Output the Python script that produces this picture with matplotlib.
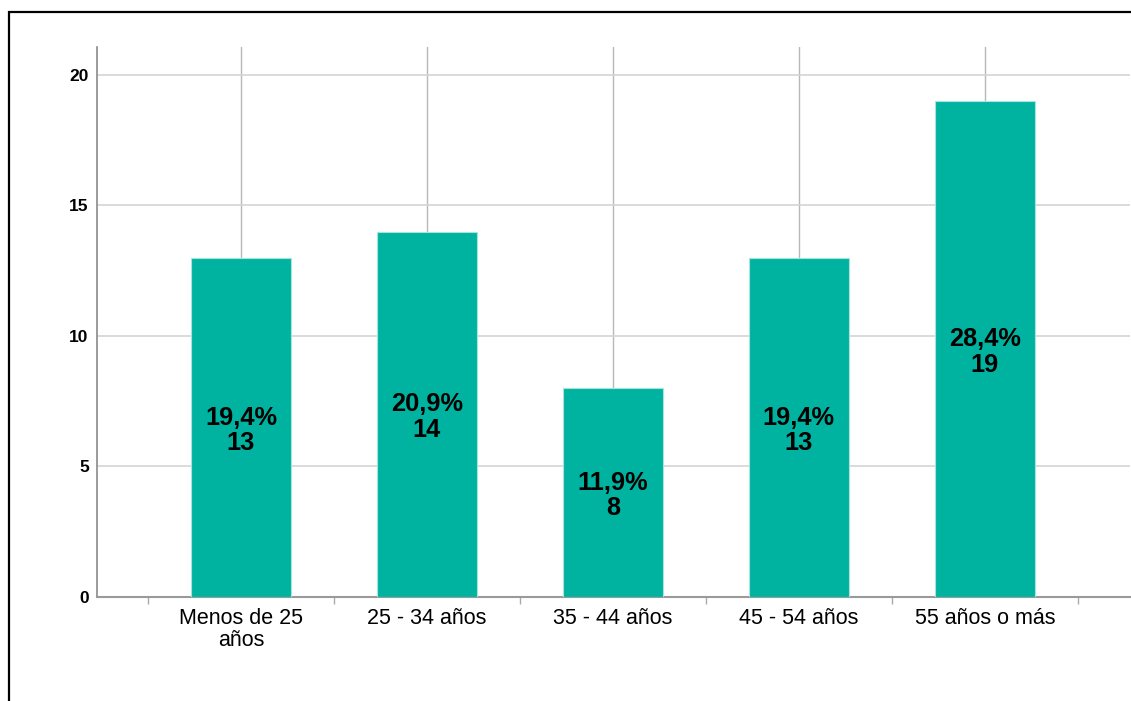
import matplotlib.pyplot as plt
import matplotlib.transforms as mtransforms
from matplotlib.patches import Rectangle
import numpy as np

# age groups and counts
categories = ['Menos de 25\naños', '25 - 34 años', '35 - 44 años', '45 - 54 años', '55 años o más']
counts = [13, 14, 8, 13, 19]
percents = ['19,4%', '20,9%', '11,9%', '19,4%', '28,4%']
y_ticks = [0, 5, 10, 15, 20]

plt.rcParams['font.family'] = ['Liberation Sans', 'DejaVu Sans']

fig = plt.figure(figsize=(11.31, 7.01), dpi=100)
ax = fig.add_axes([0.0858, 0.1484, 0.9132, 0.7846])

x = np.arange(len(categories))
ax.bar(x, counts, width=0.54, color='#00b3a0', edgecolor='#a8e4dc', linewidth=0.8, zorder=3)

# labels sit a hair below the bar middle, like in the original
lbl_trans = mtransforms.offset_copy(ax.transData, fig=fig, x=0, y=-3, units='dots')
for xi, c, p in zip(x, counts, percents):
    ax.text(xi, c / 2, p + '\n' + str(c), ha='center', va='center', fontsize=18.3,
            fontweight='bold', linespacing=1.08, zorder=4, transform=lbl_trans)

ax.set_xlim(-0.774, 4.78)
ax.set_ylim(0, 21.07)

ax.set_yticks(y_ticks)
ax.set_yticklabels([str(t) for t in y_ticks], fontsize=12.5, fontweight='bold')
ax.tick_params(axis='y', length=0, pad=6)

ax.set_xticks(x)
ax.set_xticklabels(categories, fontsize=15.5, linespacing=1.05)
ax.set_xticks(np.arange(-0.5, len(categories)), minor=True)
ax.tick_params(axis='x', which='major', length=0, pad=8)
ax.tick_params(axis='x', which='minor', length=5, color='#aaaaaa', width=1)

ax.grid(axis='y', color='#d4d4d4', linewidth=1.2, zorder=0)
ax.grid(axis='x', which='major', color='#b8b8b8', linewidth=1, zorder=0)
ax.set_axisbelow(True)

for side in ['top', 'right']:
    ax.spines[side].set_visible(False)
ax.spines['left'].set_color('#8a8a8a')
ax.spines['bottom'].set_color('#9a9a9a')
ax.spines['left'].set_linewidth(1.2)
ax.spines['bottom'].set_linewidth(1.5)

# outer frame, runs off the right and bottom edge
fig.patches.append(Rectangle((9 / 1131, -0.1), 1.2, (701 - 12) / 701 + 0.1,
                             transform=fig.transFigure, fill=False,
                             edgecolor='black', linewidth=1.6))

fig.savefig('out.png', dpi=100)
